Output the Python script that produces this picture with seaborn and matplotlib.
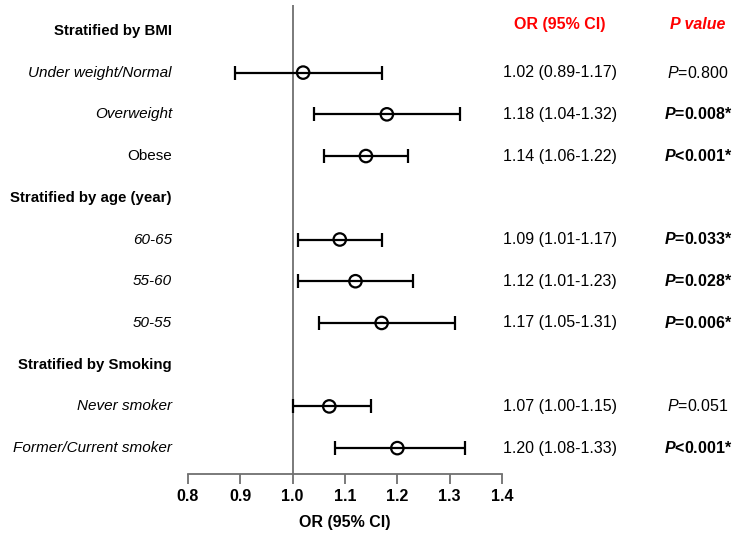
import matplotlib
matplotlib.use('Agg')
import matplotlib.pyplot as plt
import matplotlib.transforms as mtransforms
import pandas as pd
import seaborn as sns

sns.set_theme(style='white')
plt.rcParams['font.family'] = ['Liberation Sans', 'DejaVu Sans']
plt.rcParams['text.color'] = 'black'
plt.rcParams['axes.labelcolor'] = 'black'
plt.rcParams['mathtext.fontset'] = 'custom'
plt.rcParams['mathtext.it'] = 'Liberation Sans:italic'
plt.rcParams['mathtext.bfit'] = 'Liberation Sans:italic:bold'
plt.rcParams['mathtext.rm'] = 'Liberation Sans'

# rows top to bottom; headers have no estimate
labels = ['Stratified by BMI', 'Under weight/Normal', 'Overweight', 'Obese',
          'Stratified by age (year)', '60-65', '55-60', '50-55',
          'Stratified by Smoking', 'Never smoker', 'Former/Current smoker']
is_header = [True, False, False, False, True, False, False, False, True, False, False]
is_italic = [False, True, True, False, False, True, True, True, False, True, True]
odds = [None, 1.02, 1.18, 1.14, None, 1.09, 1.12, 1.17, None, 1.07, 1.20]
ci_low = [None, 0.89, 1.04, 1.06, None, 1.01, 1.01, 1.05, None, 1.00, 1.08]
ci_high = [None, 1.17, 1.32, 1.22, None, 1.17, 1.23, 1.31, None, 1.15, 1.33]
p_text = [None, '=0.800', '=0.008*', '<0.001*', None, '=0.033*', '=0.028*', '=0.006*',
          None, '=0.051', '<0.001*']
p_sig = [None, False, True, True, None, True, True, True, None, False, True]
xticks = [0.8, 0.9, 1.0, 1.1, 1.2, 1.3, 1.4]

df = pd.DataFrame({'label': labels, 'header': is_header, 'italic': is_italic,
                   'or': odds, 'lo': ci_low, 'hi': ci_high,
                   'p': p_text, 'sig': p_sig})
df['row'] = range(len(df))
est = df[~df['header']].astype({'or': float, 'lo': float, 'hi': float})

fig = plt.figure(figsize=(7.5, 5.36), dpi=100)
ax = fig.add_axes([188 / 750, 1 - 474 / 536, 314 / 750, 469 / 536])

ax.axvline(1.0, color='#707070', lw=1.3, zorder=1)
ax.errorbar(est['or'], est['row'], xerr=[est['or'] - est['lo'], est['hi'] - est['or']],
            fmt='none', ecolor='black', elinewidth=1.6, capsize=5, capthick=1.6, zorder=2)
sns.scatterplot(data=est, x='or', y='row', ax=ax, marker='o', s=80,
                facecolor='none', edgecolor='black', linewidth=1.6, zorder=3, legend=False)

ax.set_xlim(0.8, 1.4)
ax.set_ylim(10.62, -0.62)
ax.set_xticks(xticks)
ax.set_xticklabels([f'{t:.1f}' for t in xticks], fontsize=11.5, fontweight='bold')
ax.set_yticks([])
ax.set_ylabel('')
ax.set_xlabel('OR (95% CI)', fontsize=11.5, fontweight='bold', labelpad=8)
for s in ['top', 'right', 'left']:
    ax.spines[s].set_visible(False)
ax.spines['bottom'].set_color('#707070')
ax.spines['bottom'].set_linewidth(1.3)
ax.tick_params(axis='x', direction='out', length=7, width=1.3, color='#707070',
               bottom=True, pad=4, labelcolor='black')

trans = mtransforms.blended_transform_factory(ax.transAxes, ax.transData)
lx = -16 / 314
orx = (560 - 188) / 314
px = (698 - 188) / 314

for _, r in df.iterrows():
    ax.text(lx, r['row'], r['label'], transform=trans, ha='right', va='center',
            fontsize=10.8 if r['header'] else 11,
            fontweight='bold' if r['header'] else 'normal',
            fontstyle='italic' if r['italic'] else 'normal', clip_on=False)
    if not r['header']:
        ax.text(orx, r['row'], f"{r['or']:.2f} ({r['lo']:.2f}-{r['hi']:.2f})",
                transform=trans, ha='center', va='center', fontsize=11.5, clip_on=False)
        if r['sig']:
            ax.text(px, r['row'], r'$\mathbfit{P}$' + r['p'], transform=trans, ha='center',
                    va='center', fontsize=11.5, fontweight='bold', clip_on=False)
        else:
            ax.text(px, r['row'], r'$\mathit{P}$' + r['p'], transform=trans, ha='center',
                    va='center', fontsize=11.5, clip_on=False)

ax.text(orx, -0.15, 'OR (95% CI)', transform=trans, ha='center', va='center',
        fontsize=11.5, fontweight='bold', color='#ff0000', clip_on=False)
ax.text(px, -0.15, 'P value', transform=trans, ha='center', va='center',
        fontsize=11.5, fontweight='bold', fontstyle='italic', color='#ff0000', clip_on=False)

fig.savefig('out.png', dpi=100)
